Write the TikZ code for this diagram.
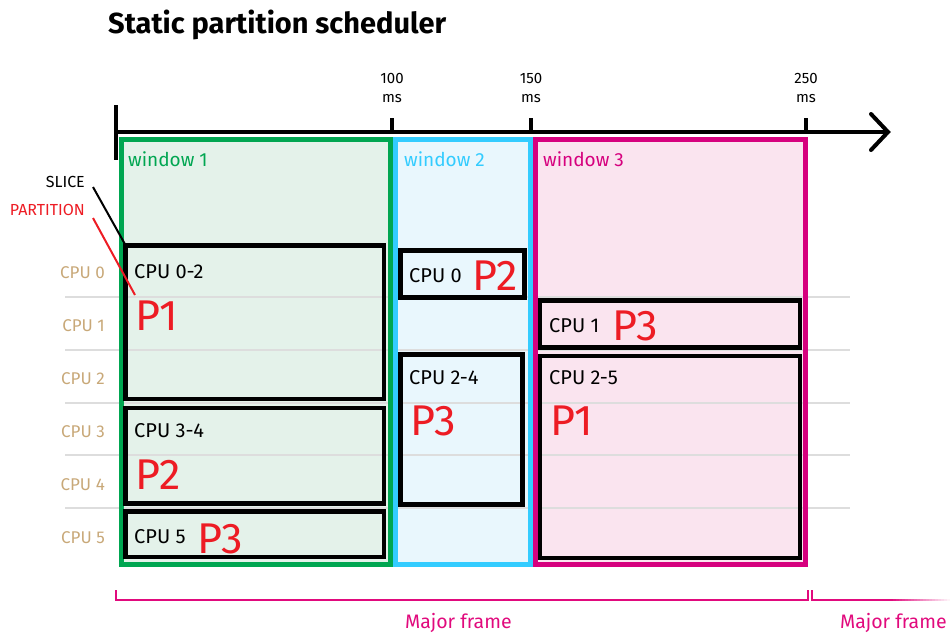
\documentclass[tikz,border=0pt]{standalone}
\usepackage{fontspec}
\setmainfont{Fira Sans}
\definecolor{wgreen}{RGB}{0,166,81}
\definecolor{wgreenfill}{RGB}{228,242,234}
\definecolor{wcyan}{RGB}{51,204,255}
\definecolor{wcyanfill}{RGB}{233,247,253}
\definecolor{wmag}{RGB}{214,0,126}
\definecolor{wmagfill}{RGB}{250,228,239}
\definecolor{pred}{RGB}{237,28,36}
\definecolor{tan}{RGB}{200,168,120}
\definecolor{gridgray}{RGB}{221,221,221}
\definecolor{framemag}{RGB}{225,10,125}
\begin{document}
\begin{tikzpicture}[x=1pt,y=-1pt,
  winborder/.style={line width=5pt},
  slicebox/.style={draw=black,line width=4.5pt,anchor=north west,inner sep=0,outer sep=0},
  cpulab/.style={anchor=base west,inner sep=0,font=\fontsize{20}{20}\selectfont},
  plab/.style={anchor=base west,inner sep=0,text=pred,font=\fontsize{43}{43}\selectfont},
  rowlab/.style={anchor=base east,inner sep=0,text=tan,font=\fontsize{17}{17}\selectfont},
  winlab/.style={anchor=base west,inner sep=0,font=\fontsize{19}{19}\selectfont},
  ticklab/.style={anchor=base,inner sep=0,font=\fontsize{15}{15}\selectfont},
  framelab/.style={anchor=base west,inner sep=0,text=framemag,font=\fontsize{19.5}{19.5}\selectfont},
  gridline/.style={draw=gridgray,line width=1.2pt},
  axisline/.style={line width=4pt,line cap=butt},
  bracket/.style={draw=framemag,line width=1.6pt,line cap=butt}
]
\useasboundingbox (0,0) rectangle (951,633);

% title
\node[anchor=base west,inner sep=0,font=\fontsize{29}{29}\selectfont\bfseries] (title) at (108,33) {Static partition scheduler};

% window fills
\fill[wgreenfill] (121,139) rectangle (390.5,564.5);
\fill[wcyanfill] (395.5,139) rectangle (530.5,564.5);
\fill[wmagfill] (535.5,139) rectangle (805.5,564.5);

% grid lines
\foreach \yy in {297,350,403,455,508} {
  \draw[gridline] (65,\yy) -- (850,\yy);
}

% window borders
\draw[winborder,draw=wgreen] (121,139) rectangle (390.5,564.5);
\draw[winborder,draw=wcyan] (395.5,139) rectangle (530.5,564.5);
\draw[winborder,draw=wmag] (535.5,139) rectangle (805.5,564.5);

\node[winlab,text=wgreen] (w1) at (128,166) {window 1};
\node[winlab,text=wcyan] (w2) at (404,166) {window 2};
\node[winlab,text=wmag] (w3) at (543,166) {window 3};

% axis
\coordinate (a0) at (116,132);
\coordinate (aend) at (888,132);
\draw[axisline] (a0) -- (aend);
\draw[line width=4pt,line cap=round,line join=miter] (871,114) -- (aend) -- (871,150);
\draw[axisline] (116,105) -- (116,160);
\foreach \xx/\lab in {392/100,531/150,806/250} {
  \draw[axisline] (\xx,118) -- (\xx,132);
  \node[ticklab] (t\lab) at (\xx,83) {\lab};
  \node[ticklab] (m\lab) at (\xx,102) {ms};
}

% row labels
\node[rowlab] (r0) at (105,278) {CPU 0};
\node[rowlab] (r1) at (105,331) {CPU 1};
\node[rowlab] (r2) at (105,384) {CPU 2};
\node[rowlab] (r3) at (105,437) {CPU 3};
\node[rowlab] (r4) at (105,490) {CPU 4};
\node[rowlab] (r5) at (105,543) {CPU 5};

% slice boxes window 1
\node[slicebox,minimum width=258.5pt,minimum height=153.5pt] (s1a) at (125.5,245.5) {};
\node[slicebox,minimum width=258.5pt,minimum height=95.5pt] (s1b) at (125.5,408) {};
\node[slicebox,minimum width=258.5pt,minimum height=45.5pt] (s1c) at (125.5,511.5) {};
% window 2
\node[slicebox,minimum width=124pt,minimum height=47pt] (s2a) at (400.5,250.5) {};
\node[slicebox,minimum width=122pt,minimum height=150pt] (s2b) at (400.5,354.5) {};
% window 3
\node[slicebox,minimum width=260pt,minimum height=47pt] (s3a) at (540,300.5) {};
\node[slicebox,minimum width=260pt,minimum height=202pt] (s3b) at (540,356) {};

% labels in boxes
\node[cpulab] (c1a) at (134,278) {CPU 0-2};
\node[plab] (p1a) at (135,330) {P1};
\node[cpulab] (c1b) at (134,437) {CPU 3-4};
\node[plab] (p1b) at (135,489) {P2};
\node[cpulab] (c1c) at (134,543) {CPU 5};
\node[plab] (p1c) at (197,553) {P3};

\node[cpulab] (c2a) at (409,282) {CPU 0};
\node[plab] (p2a) at (472,290) {P2};
\node[cpulab] (c2b) at (409,384) {CPU 2-4};
\node[plab] (p2b) at (410,435) {P3};

\node[cpulab] (c3a) at (549,332) {CPU 1};
\node[plab] (p3a) at (612,340) {P3};
\node[cpulab] (c3b) at (549,384) {CPU 2-5};
\node[plab] (p3b) at (550,435) {P1};

% SLICE / PARTITION callouts
\node[anchor=base east,inner sep=0,font=\fontsize{16}{16}\selectfont] (slice) at (85,187) {SLICE};
\node[anchor=base east,inner sep=0,text=pred,font=\fontsize{16}{16}\selectfont] (part) at (85,215) {PARTITION};
\coordinate (sliceend) at (126,246);
\coordinate (partend) at (135,295);
\draw[line width=2pt] (93,187) -- (sliceend);
\draw[line width=2pt,draw=pred] (93,218) -- (partend);

% major frame brackets
\coordinate (b1a) at (116,590);
\coordinate (b1b) at (808,590);
\draw[bracket] (b1a) -- (116,600) -- (808,600) -- (b1b);
\coordinate (b2a) at (812,590);
\draw[bracket] (b2a) -- (812,600) -- (890,600);
\foreach \i in {0,...,19} {
  \pgfmathsetmacro{\pc}{100-5*\i}
  \draw[line width=1.6pt,line cap=butt,draw=framemag!\pc!white] (890+3*\i,600) -- (893+3*\i,600);
}
\node[framelab] (mf1) at (405,628) {Major frame};
\node[framelab] (mf2) at (840,628) {Major frame};
\end{tikzpicture}
\end{document}
